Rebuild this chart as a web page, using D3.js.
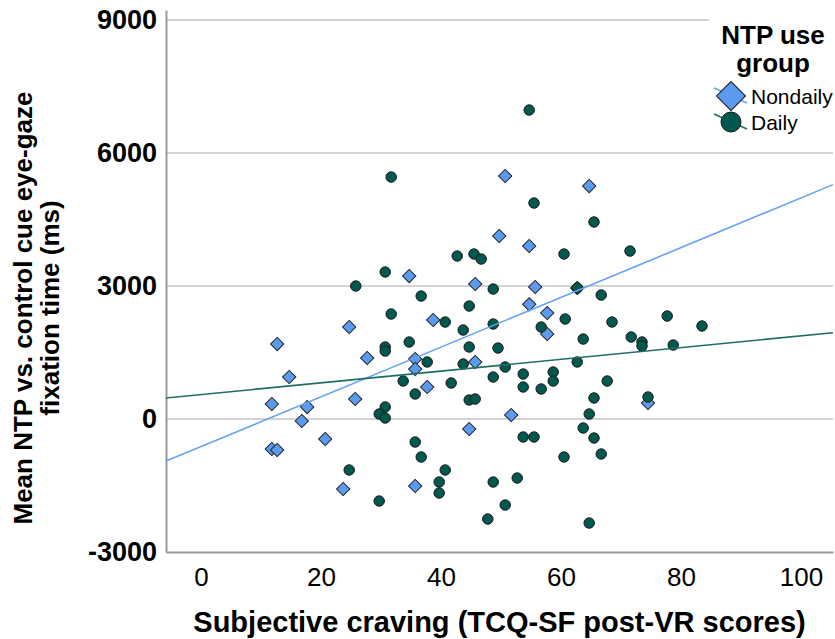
<!DOCTYPE html>
<html lang="en">
<head>
  <meta charset="UTF-8">
  <title>Craving vs fixation</title>
  <script src="https://cdn.jsdelivr.net/npm/d3@7/dist/d3.min.js"></script>
  <style>
    body { margin: 0; background: #fff; }
    text { font-family: "Liberation Sans", Arial, sans-serif; fill: #000; }
  </style>
</head>

<body>
  <script>
    // Nondaily NTP users (diamonds)
    const nondailyCraving = [50.7, 64.7, 49.7, 54.7, 34.7, 45.7, 55.7, 62.7, 54.7, 57.7, 38.7, 57.7,
      24.7, 12.7, 27.7, 35.7, 45.7, 35.7, 14.7, 37.7, 11.8, 17.7, 25.7, 51.7, 16.8, 44.7, 20.7,
      11.8, 12.7, 23.7, 35.7, 74.5];
    const nondailyFixation = [5481, 5255, 4128, 3902, 3225, 3045, 2977, 2955, 2586, 2391, 2233, 1917,
      2075, 1691, 1376, 1353, 1286, 1128, 947, 722, 338, 270, 451, 90, -45, -226, -451,
      -677, -699, -1579, -1511, 361];

    // Daily NTP users (circles)
    const dailyCraving = [54.7, 31.7, 55.5, 65.5, 42.7, 45.5, 46.7, 60.5, 71.5, 30.7, 25.8, 36.7,
      48.7, 62.7, 66.7, 44.7, 31.7, 40.7, 43.7, 48.7, 60.7, 68.5, 77.7, 83.5, 56.7, 34.7, 30.7,
      30.7, 44.7, 49.5, 63.7, 71.7, 73.5, 73.5, 78.7, 37.7, 43.7, 62.7, 50.7, 33.7, 41.7, 48.7,
      53.7, 53.7, 58.7, 58.7, 56.7, 67.7, 35.7, 44.7, 45.7, 65.5, 74.5, 30.7, 29.7, 30.7, 64.7,
      63.7, 53.7, 55.5, 65.5, 35.7, 36.7, 60.5, 66.7, 24.7, 40.7, 39.7, 39.7, 48.7, 52.7, 29.7,
      50.7, 47.8, 64.7];
    const dailyFixation = [6970, 5459, 4872, 4444, 3677, 3722, 3609, 3722, 3789, 3316, 3000, 2774,
      2932, 2955, 2797, 2549, 2368, 2188, 2007, 2143, 2256, 2188, 2323, 2098, 2075, 1737, 1624,
      1534, 1624, 1601, 1804, 1850, 1737, 1647, 1669, 1286, 1241, 1286, 1173, 857, 812, 947,
      1015, 722, 1060, 857, 677, 857, 564, 429, 451, 474, 496, 271, 113, 23, 113,
      -203, -406, -406, -429, -519, -857, -857, -789, -1150, -1150, -1421, -1669, -1421, -1331, -1850,
      -1940, -2256, -2346];

    // fit lines per group (intercept, slope)
    const groups = ["Nondaily", "Daily"];
    const fitIntercept = [-622, 551];
    const fitSlope = [56.1, 13.25];

    const xTicks = [0, 20, 40, 60, 80, 100];
    const yTicks = [-3000, 0, 3000, 6000, 9000];

    const fills = ["#5b9bef", "#00584f"];
    const lineColors = ["#65a3f2", "#1d6e64"];

    const width = 835, height = 639;
    const m = { left: 166, right: 833, top: 10, bottom: 552 };

    const svg = d3.select("body").append("svg")
      .attr("width", width)
      .attr("height", height);

    const x = d3.scaleLinear().domain([-5.83, 105.33]).range([m.left, m.right]);
    const y = d3.scaleLinear().domain([-3000, 9226]).range([m.bottom, m.top]);

    // gridlines
    svg.append("g").selectAll("line")
      .data(yTicks.filter(d => d > -3000))
      .enter().append("line")
      .attr("x1", m.left).attr("x2", m.right)
      .attr("y1", d => y(d)).attr("y2", d => y(d))
      .attr("stroke", "#d3d3d3")
      .attr("stroke-width", 2);

    // axes
    const axisY = svg.append("g")
      .attr("transform", `translate(${m.left},0)`)
      .call(d3.axisLeft(y).tickValues(yTicks).tickSize(0).tickSizeOuter(0).tickPadding(9).tickFormat(d => String(d)));
    axisY.selectAll("text")
      .style("font-size", "27px")
      .style("font-weight", "bold")
      .style("font-family", "'Liberation Sans', Arial, sans-serif");

    const axisX = svg.append("g")
      .attr("transform", `translate(0,${m.bottom})`)
      .call(d3.axisBottom(x).tickValues(xTicks).tickSize(0).tickSizeOuter(0).tickPadding(16));
    axisX.selectAll("text")
      .style("font-size", "26px")
      .style("font-family", "'Liberation Sans', Arial, sans-serif");

    svg.selectAll(".domain")
      .attr("stroke", "#9a9a9a")
      .attr("stroke-width", 2);

    // points
    const diamond = d3.symbol().type(d3.symbolSquare).size(88);
    const circle = d3.symbol().type(d3.symbolCircle).size(86);

    const nondaily = nondailyCraving.map((c, i) => ({ c: c, f: nondailyFixation[i] }));
    const daily = dailyCraving.map((c, i) => ({ c: c, f: dailyFixation[i] }));

    svg.append("g").selectAll("path")
      .data(nondaily)
      .enter().append("path")
      .attr("d", diamond)
      .attr("transform", d => `translate(${x(d.c)},${y(d.f)}) rotate(45)`)
      .attr("fill", fills[0])
      .attr("stroke", "#222")
      .attr("stroke-width", 1);

    svg.append("g").selectAll("path")
      .data(daily)
      .enter().append("path")
      .attr("d", circle)
      .attr("transform", d => `translate(${x(d.c)},${y(d.f)})`)
      .attr("fill", fills[1])
      .attr("stroke", "#1a1a1a")
      .attr("stroke-width", 1);

    // fit lines
    const xr = x.domain();
    svg.append("g").selectAll("line")
      .data(groups)
      .enter().append("line")
      .attr("x1", x(xr[0]))
      .attr("x2", x(xr[1]))
      .attr("y1", (d, i) => y(fitIntercept[i] + fitSlope[i] * xr[0]))
      .attr("y2", (d, i) => y(fitIntercept[i] + fitSlope[i] * xr[1]))
      .attr("stroke", (d, i) => lineColors[i])
      .attr("stroke-width", 1.6);

    // legend
    const legend = svg.append("g");
    legend.append("rect")
      .attr("x", 709).attr("y", 0)
      .attr("width", 126).attr("height", 142)
      .attr("fill", "#fff");
    legend.append("text")
      .attr("x", 773).attr("y", 44)
      .attr("text-anchor", "middle")
      .style("font-size", "26px").style("font-weight", "bold")
      .text("NTP use");
    legend.append("text")
      .attr("x", 773).attr("y", 72)
      .attr("text-anchor", "middle")
      .style("font-size", "26px").style("font-weight", "bold")
      .text("group");

    const bigDiamond = d3.symbol().type(d3.symbolSquare).size(420);
    const bigCircle = d3.symbol().type(d3.symbolCircle).size(314);
    const item = legend.selectAll(".item")
      .data(groups)
      .enter().append("g")
      .attr("class", "item")
      .attr("transform", (d, i) => `translate(731,${96 + i * 26})`);
    item.append("line")
      .attr("x1", -17).attr("y1", -8).attr("x2", 16).attr("y2", 7)
      .attr("stroke", (d, i) => lineColors[i])
      .attr("stroke-width", 1.6);
    item.append("path")
      .attr("d", (d, i) => i === 0 ? bigDiamond() : bigCircle())
      .attr("transform", (d, i) => i === 0 ? "rotate(45)" : null)
      .attr("fill", (d, i) => fills[i])
      .attr("stroke", "#1a1a1a")
      .attr("stroke-width", 1);
    item.append("text")
      .attr("x", 20).attr("y", 8)
      .style("font-size", "21px")
      .text(d => d);

    // axis titles
    svg.append("text")
      .attr("x", (m.left + m.right) / 2).attr("y", 632)
      .attr("text-anchor", "middle")
      .style("font-size", "29px").style("font-weight", "bold")
      .text("Subjective craving (TCQ-SF post-VR scores)");

    const yTitle = ["Mean NTP vs. control cue eye-gaze", "fixation time (ms)"];
    svg.append("g").selectAll("text")
      .data(yTitle)
      .enter().append("text")
      .attr("transform", (d, i) => `translate(${32 + i * 27},308) rotate(-90)`)
      .attr("text-anchor", "middle")
      .style("font-size", "26px").style("font-weight", "bold")
      .text(d => d);
  </script>
</body>
</html>
